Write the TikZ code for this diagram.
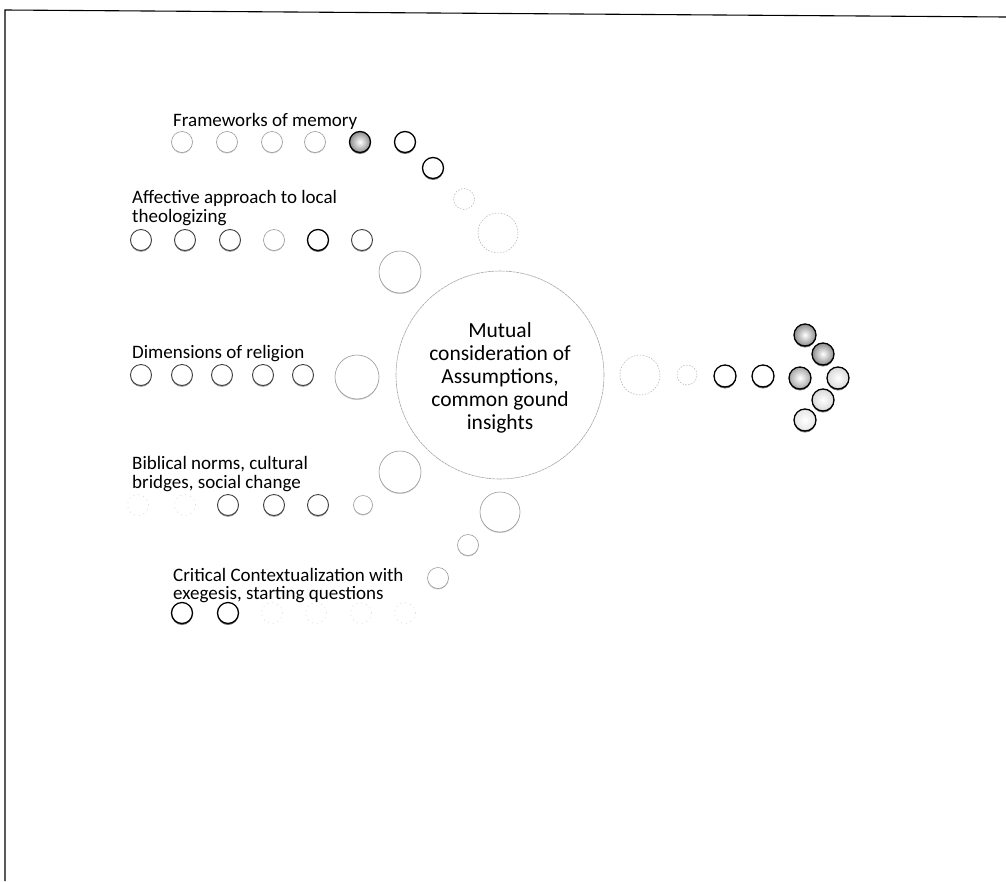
\documentclass[tikz,border=0pt]{standalone}
\usepackage{fontspec}
\setmainfont{Carlito}
\usetikzlibrary{shadows}
\begin{document}
\begin{tikzpicture}[x=1pt,y=-1pt,
  bead/.style={circle,inner sep=0pt,minimum size=#1,fill=white},
  bead/.default=21pt,
  dark/.style={draw=black,line width=1.3pt,drop shadow={shadow xshift=0pt,shadow yshift=-1.5pt,opacity=0.55,fill=black}},
  mid/.style={draw=black!75,line width=0.9pt,drop shadow={shadow xshift=0pt,shadow yshift=-1.3pt,opacity=0.4,fill=black}},
  light/.style={draw=black!40,line width=0.6pt,drop shadow={shadow xshift=0pt,shadow yshift=-1pt,opacity=0.2,fill=black}},
  faint/.style={draw=black!30,line width=0.5pt,dash pattern=on 1.5pt off 1.5pt},
  ghost/.style={draw=black!18,line width=0.5pt,dash pattern=on 1pt off 4pt},
  ball/.style={shade,shading=radial,inner color=white,outer color=#1},
  lbl/.style={font=\fontsize{19}{18.5}\selectfont,align=left,anchor=north west,inner sep=0pt},
  hub/.style={circle,draw=black!35,line width=0.6pt,dash pattern=on 3pt off 0.6pt,minimum size=208pt,inner sep=0pt,fill=white},
  hubtext/.style={font=\fontsize{21.5}{23}\selectfont,align=center,inner sep=0pt}
]
\useasboundingbox (0,0) rectangle (1006,881);
% frame
\draw[line width=1.1pt] (5,881) -- (5,10) -- (1006,17);

% central circle
\node[hub] (hub) at (500,375) {};
\node[hubtext] (hubtxt) at (500,378) {Mutual\\consideration of\\Assumptions,\\common gound\\insights};

% row 1: Frameworks of memory
\node[lbl] (l1) at (173,113.5) {Frameworks of memory};
\node[bead,light] (a1) at (182,142) {};
\node[bead,light] (a2) at (227,142) {};
\node[bead,light] (a3) at (272,142) {};
\node[bead,light] (a4) at (315,142) {};
\node[bead,dark,ball=black!45] (a5) at (360,142) {};
\node[bead,dark] (a6) at (405,142) {};
\node[bead,dark] (a7) at (433,168) {};
\node[bead,faint] (a8) at (464,199) {};
\node[bead=40pt,faint] (a9) at (498,233) {};

% row 2: Affective approach
\node[lbl] (l2) at (132,190.5) {Affective approach to local\\theologizing};
\node[bead,mid] (b1) at (141,240) {};
\node[bead,mid] (b2) at (185,240) {};
\node[bead,mid] (b3) at (230,240) {};
\node[bead,light] (b4) at (274,240) {};
\node[bead,dark] (b5) at (318,240) {};
\node[bead,mid] (b6) at (362,240) {};
\node[bead=42pt,light] (b7) at (400,272) {};

% row 3: Dimensions of religion
\node[lbl] (l3) at (132,345.5) {Dimensions of religion};
\node[bead,mid] (c1) at (141,375) {};
\node[bead,mid] (c2) at (182,375) {};
\node[bead,mid] (c3) at (222,375) {};
\node[bead,mid] (c4) at (263,375) {};
\node[bead,mid] (c5) at (303,375) {};
\node[bead=44pt,light] (c6) at (357,377) {};

% row 4: Biblical norms
\node[lbl] (l4) at (132,456.5) {Biblical norms, cultural\\bridges, social change};
\node[bead,ghost] (d1) at (138,505) {};
\node[bead,ghost] (d2) at (185,505) {};
\node[bead,mid] (d3) at (228,505) {};
\node[bead,mid] (d4) at (274,505) {};
\node[bead,mid] (d5) at (318,505) {};
\node[bead=19pt,light] (d6) at (363,505) {};
\node[bead=42pt,light] (d7) at (400,472) {};
\node[bead=40pt,light] (d8) at (500,512) {};
\node[bead,light] (d9) at (468,545) {};
\node[bead,light] (d10) at (438,578) {};

% row 5: Critical Contextualization
\node[lbl] (l5) at (173,568) {Critical Contextualization with\\exegesis, starting questions};
\node[bead,dark] (e1) at (182,613) {};
\node[bead,dark] (e2) at (228,613) {};
\node[bead,ghost] (e3) at (272,613) {};
\node[bead,ghost] (e4) at (316,613) {};
\node[bead,ghost] (e5) at (361,613) {};
\node[bead,ghost] (e6) at (405,613) {};

% right arrow
\node[bead=40pt,faint] (f1) at (640,375) {};
\node[bead=20pt,faint] (f2) at (687,375) {};
\node[bead=22pt,dark] (f3) at (725,376) {};
\node[bead=22pt,dark] (f4) at (763,376) {};
\node[bead=22pt,dark,ball=black!35] (f5) at (800,378) {};
\node[bead=22pt,dark,ball=black!15] (f6) at (838,378) {};
\node[bead=22pt,dark,ball=black!45] (f7) at (805,335) {};
\node[bead=22pt,dark,ball=black!45] (f8) at (823,354) {};
\node[bead=22pt,dark,ball=black!15] (f9) at (823,400) {};
\node[bead=22pt,dark,ball=black!10] (f10) at (805,420) {};
\end{tikzpicture}
\end{document}
